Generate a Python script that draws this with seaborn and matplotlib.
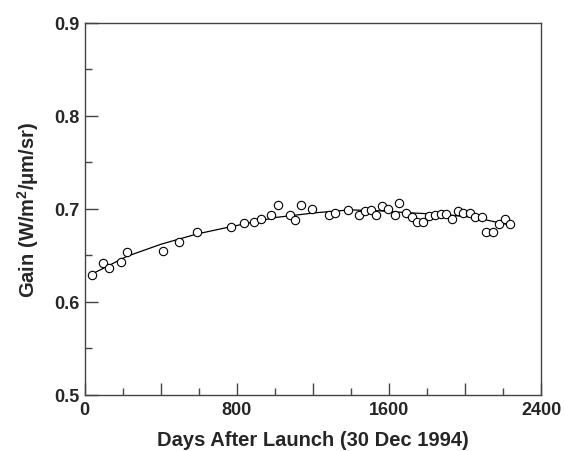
import numpy as np
import pandas as pd
import matplotlib
matplotlib.use("Agg")
import matplotlib.pyplot as plt
from matplotlib.ticker import MultipleLocator, FuncFormatter
import seaborn as sns

days = [38, 96, 130, 189, 221, 409, 498, 588, 770, 835, 891, 925, 981, 1016,
        1077, 1107, 1135, 1195, 1286, 1317, 1386, 1442, 1475, 1505, 1533, 1563,
        1596, 1630, 1654, 1688, 1719, 1746, 1777, 1809, 1842, 1874, 1900, 1933,
        1963, 1991, 2023, 2051, 2088, 2111, 2144, 2179, 2209, 2237]
gain = [0.629, 0.642, 0.636, 0.643, 0.654, 0.655, 0.664, 0.675, 0.681, 0.685,
        0.686, 0.689, 0.694, 0.704, 0.694, 0.688, 0.704, 0.700, 0.694, 0.696,
        0.699, 0.693, 0.698, 0.699, 0.694, 0.703, 0.700, 0.694, 0.706, 0.696,
        0.691, 0.686, 0.686, 0.692, 0.693, 0.695, 0.695, 0.689, 0.698, 0.696,
        0.696, 0.691, 0.691, 0.675, 0.675, 0.684, 0.689, 0.684]

# fitted trend line
fit_days = [38, 221, 400, 588, 770, 1009, 1219, 1395, 1550, 1693, 1886, 2044, 2184, 2228]
fit_gain = [0.630, 0.649, 0.662, 0.673, 0.681, 0.691, 0.696, 0.699, 0.698, 0.696,
            0.694, 0.691, 0.685, 0.683]

pts = pd.DataFrame({"days": days, "gain": gain})
fit = pd.DataFrame({"days": fit_days, "gain": fit_gain})

sns.set_style("ticks")
plt.rcParams["font.family"] = ["Liberation Sans", "DejaVu Sans"]
plt.rcParams["font.weight"] = "bold"
plt.rcParams["mathtext.fontset"] = "custom"
plt.rcParams["mathtext.bf"] = "Liberation Sans:bold"

fig = plt.figure(figsize=(5.65, 4.52), dpi=100)
ax = fig.add_axes([0.150, 0.124, 0.808, 0.823])

sns.lineplot(data=fit, x="days", y="gain", color="black", linewidth=0.9, ax=ax)
sns.scatterplot(data=pts, x="days", y="gain", marker="o", s=36,
                facecolor="white", edgecolor="black", linewidth=0.8, ax=ax, zorder=3)

ax.set_xlim(0, 2400)
ax.set_ylim(0.5, 0.9)
ax.xaxis.set_major_locator(MultipleLocator(400))
ax.xaxis.set_minor_locator(MultipleLocator(200))
ax.xaxis.set_major_formatter(FuncFormatter(lambda v, p: f"{v:.0f}" if round(v) % 800 == 0 else ""))
ax.yaxis.set_major_locator(MultipleLocator(0.1))
ax.yaxis.set_minor_locator(MultipleLocator(0.05))
ax.yaxis.set_major_formatter(FuncFormatter(lambda v, p: f"{v:.1f}"))
ax.tick_params(which="both", direction="in", top=False, right=False,
               labelsize=13, color="#444444")
ax.tick_params(which="major", length=9, width=1, pad=4)
ax.tick_params(which="minor", length=5, width=1)

for s in ax.spines.values():
    s.set_color("#444444")
    s.set_linewidth(1)

ax.set_xlabel("Days After Launch (30 Dec 1994)", fontsize=14.5, fontweight="bold", labelpad=9)
ax.set_ylabel("Gain (W/m$\\mathbf{^2}$/\u03bcm/sr)", fontsize=14.5, fontweight="bold", labelpad=9)

fig.savefig("out.png", dpi=100)
